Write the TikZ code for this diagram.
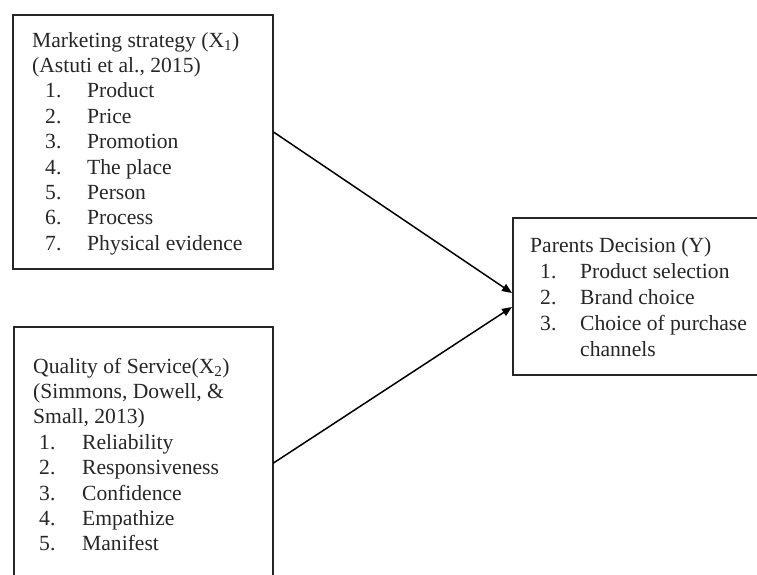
\documentclass[tikz,border=0pt]{standalone}
\usepackage{fontspec}
\setmainfont{Liberation Serif}
\usetikzlibrary{arrows.meta}
\newcommand{\itm}[3]{\hspace*{#1}\makebox[#2][l]{#3}}
\begin{document}
\begin{tikzpicture}[x=1pt,y=-1pt,
  box/.style={draw=black!85, line width=1.5pt, inner sep=0pt, anchor=north west},
  txt/.style={anchor=base west, inner sep=0pt, text=black!85, font=\fontsize{21.6}{25.4}\selectfont},
  arr/.style={line width=1.5pt, -{Triangle[length=10pt,width=8pt]}}]
\useasboundingbox (0,0) rectangle (757,574);
\clip (0,0) rectangle (757,574);
\node[box, minimum width=260pt, minimum height=254pt] (b1) at (12,14) {};
\node[box, minimum width=259pt, minimum height=260pt] (b2) at (13,326) {};
\node[box, minimum width=260pt, minimum height=157pt] (b3) at (512,217) {};
\path (b1.north east) ++(0,118) coordinate (s1);
\path (b2.north east) ++(0,137) coordinate (s2);
\path (b3.north west) ++(0,76) coordinate (t1);
\path (b3.north west) ++(0,90) coordinate (t2);
\draw[arr] (s1) -- (t1);
\draw[arr] (s2) -- (t2);
\node[txt] (m) at (32,47) {\begin{tabular}[t]{@{}l@{}}
Marketing strategy (X\textsubscript{1})\\
(Astuti et al., 2015)\\
\itm{13pt}{42pt}{1.}Product\\
\itm{13pt}{42pt}{2.}Price\\
\itm{13pt}{42pt}{3.}Promotion\\
\itm{13pt}{42pt}{4.}The place\\
\itm{13pt}{42pt}{5.}Person\\
\itm{13pt}{42pt}{6.}Process\\
\itm{13pt}{42pt}{7.}Physical evidence
\end{tabular}};
\node[txt] (q) at (33,373) {\begin{tabular}[t]{@{}l@{}}
Quality of Service(X\textsubscript{2})\\
(Simmons, Dowell, \&\\
Small, 2013)\\
\itm{6pt}{43pt}{1.}Reliability\\
\itm{6pt}{43pt}{2.}Responsiveness\\
\itm{6pt}{43pt}{3.}Confidence\\
\itm{6pt}{43pt}{4.}Empathize\\
\itm{6pt}{43pt}{5.}Manifest
\end{tabular}};
\node[txt] (p) at (530,252) {\fontsize{21.6}{26}\selectfont\begin{tabular}[t]{@{}l@{}}
Parents Decision (Y)\\
\itm{10pt}{40pt}{1.}Product selection\\
\itm{10pt}{40pt}{2.}Brand choice\\
\itm{10pt}{40pt}{3.}Choice of purchase\\
\itm{10pt}{40pt}{}channels
\end{tabular}};
\end{tikzpicture}
\end{document}
